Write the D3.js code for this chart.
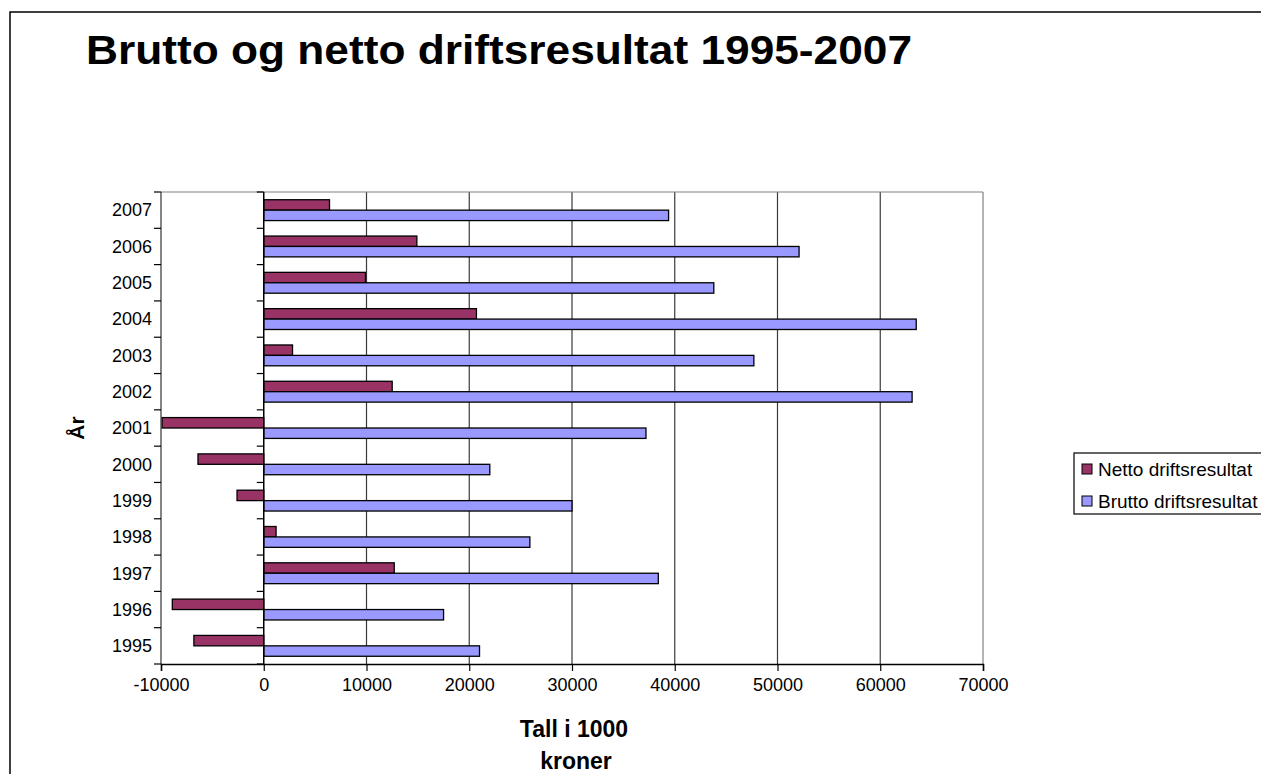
<!DOCTYPE html>
<html>
<head>
<meta charset="utf-8">
<script src="https://cdn.jsdelivr.net/npm/d3@7"></script>
<style>
  body { margin: 0; background: #fff; }
  text { font-family: Arial, "Liberation Sans", sans-serif; }
</style>
</head>
<body>
<div id="chart"></div>
<script>
// data (tall i 1000 kroner)
var years = [1995, 1996, 1997, 1998, 1999, 2000, 2001, 2002, 2003, 2004, 2005, 2006, 2007];
var netto = [-6800, -8900, 12700, 1200, -2600, -6400, -9900, 12500, 2800, 20700, 9900, 14900, 6400];
var brutto = [21000, 17500, 38400, 25900, 30000, 22000, 37200, 63100, 47700, 63500, 43800, 52100, 39400];
var xTicks = [-10000, 0, 10000, 20000, 30000, 40000, 50000, 60000, 70000];
var seriesNames = ["Netto driftsresultat", "Brutto driftsresultat"];
var seriesColors = ["#993366", "#9999FF"];

var width = 1261, height = 774;
var plot = { left: 161, right: 983, top: 192, bottom: 664 };

var svg = d3.select("#chart").append("svg")
  .attr("width", width)
  .attr("height", height);

// outer chart border (runs off the right and bottom edge)
svg.append("rect")
  .attr("x", 10).attr("y", 12)
  .attr("width", 1400).attr("height", 900)
  .attr("fill", "#fff")
  .attr("stroke", "#000")
  .attr("stroke-width", 1.5);

svg.append("text")
  .attr("x", 86).attr("y", 64)
  .attr("textLength", 826)
  .attr("lengthAdjust", "spacingAndGlyphs")
  .style("font-size", "40px")
  .style("font-weight", "bold")
  .text("Brutto og netto driftsresultat 1995-2007");

var x = d3.scaleLinear()
  .domain([xTicks[0], xTicks[xTicks.length - 1]])
  .range([plot.left, plot.right]);

var y = d3.scaleBand()
  .domain(years.slice().reverse())
  .range([plot.top, plot.bottom])
  .paddingInner(0).paddingOuter(0);

var bw = y.bandwidth();
var barH = bw * 0.287;
var barOff = (bw - 2 * barH) / 2;

// grid lines
svg.append("g").selectAll("line")
  .data(xTicks.filter(function (d) { return d > 0; }))
  .enter().append("line")
  .attr("x1", function (d) { return x(d); })
  .attr("x2", function (d) { return x(d); })
  .attr("y1", plot.top).attr("y2", plot.bottom)
  .attr("stroke", function (d) { return d === 70000 ? "#808080" : "#3a3a3a"; })
  .attr("stroke-width", 1.2);

svg.append("line")
  .attr("x1", plot.left).attr("x2", plot.right)
  .attr("y1", plot.top).attr("y2", plot.top)
  .attr("stroke", "#808080").attr("stroke-width", 1.2);

// bars
var rows = years.map(function (yr, i) { return { year: yr, netto: netto[i], brutto: brutto[i] }; });
var keys = ["netto", "brutto"];

keys.forEach(function (k, s) {
  svg.append("g").selectAll("rect")
    .data(rows)
    .enter().append("rect")
    .attr("x", function (d) { return x(Math.min(0, d[k])); })
    .attr("y", function (d) { return y(d.year) + barOff + s * barH; })
    .attr("width", function (d) { return Math.abs(x(d[k]) - x(0)); })
    .attr("height", barH)
    .attr("fill", seriesColors[s])
    .attr("stroke", "#000")
    .attr("stroke-width", 1.3);
});

// left axis line + ticks at band edges
var edges = years.map(function (yr) { return y(yr); }).concat([plot.bottom]);

[plot.left, x(0)].forEach(function (ax, j) {
  svg.append("line")
    .attr("x1", ax).attr("x2", ax)
    .attr("y1", plot.top).attr("y2", plot.bottom)
    .attr("stroke", j === 0 ? "#333" : "#000")
    .attr("stroke-width", j === 0 ? 1.2 : 1.5);
  svg.append("g").selectAll("line")
    .data(edges)
    .enter().append("line")
    .attr("x1", ax - 7).attr("x2", ax)
    .attr("y1", function (d) { return d; })
    .attr("y2", function (d) { return d; })
    .attr("stroke", "#000").attr("stroke-width", 1.2);
});

// year labels
svg.append("g").selectAll("text")
  .data(years)
  .enter().append("text")
  .attr("x", 152)
  .attr("y", function (d) { return y(d) + bw / 2; })
  .attr("dy", "0.35em")
  .attr("text-anchor", "end")
  .style("font-size", "18px")
  .text(function (d) { return d; });

// bottom axis
var xAxis = d3.axisBottom(x)
  .tickValues(xTicks)
  .tickSize(7)
  .tickFormat(function (d) { return String(d); });

var gx = svg.append("g")
  .attr("transform", "translate(0," + plot.bottom + ")")
  .call(xAxis);
gx.select(".domain").attr("stroke", "#000").attr("stroke-width", 1.5);
gx.selectAll(".tick line").attr("stroke", "#000").attr("stroke-width", 1.2);
gx.selectAll(".tick text")
  .attr("y", 14)
  .style("font-size", "18px")
  .style("font-family", "Arial, 'Liberation Sans', sans-serif")
  .attr("fill", "#000");

// axis titles
var xTitle = svg.append("text")
  .attr("text-anchor", "middle")
  .style("font-size", "23px")
  .style("font-weight", "bold");
xTitle.append("tspan").attr("x", 574).attr("y", 737).text("Tall i 1000");
xTitle.append("tspan").attr("x", 576).attr("y", 769).text("kroner");

svg.append("text")
  .attr("transform", "translate(84," + ((plot.top + plot.bottom) / 2) + ") rotate(-90)")
  .attr("text-anchor", "middle")
  .style("font-size", "21px")
  .style("font-weight", "bold")
  .text("År");

// legend
var legend = svg.append("g");
legend.append("rect")
  .attr("x", 1074).attr("y", 453)
  .attr("width", 300).attr("height", 61)
  .attr("fill", "#fff")
  .attr("stroke", "#000")
  .attr("stroke-width", 1.2);

var items = legend.selectAll("g.item")
  .data(seriesNames)
  .enter().append("g")
  .attr("class", "item")
  .attr("transform", function (d, i) { return "translate(1082," + (469 + i * 32) + ")"; });

items.append("rect")
  .attr("x", 0).attr("y", -5)
  .attr("width", 10).attr("height", 10)
  .attr("fill", function (d, i) { return seriesColors[i]; })
  .attr("stroke", "#000")
  .attr("stroke-width", 1);

items.append("text")
  .attr("x", 16)
  .attr("dy", "0.35em")
  .style("font-size", "19px")
  .text(function (d) { return d; });
</script>
</body>
</html>
